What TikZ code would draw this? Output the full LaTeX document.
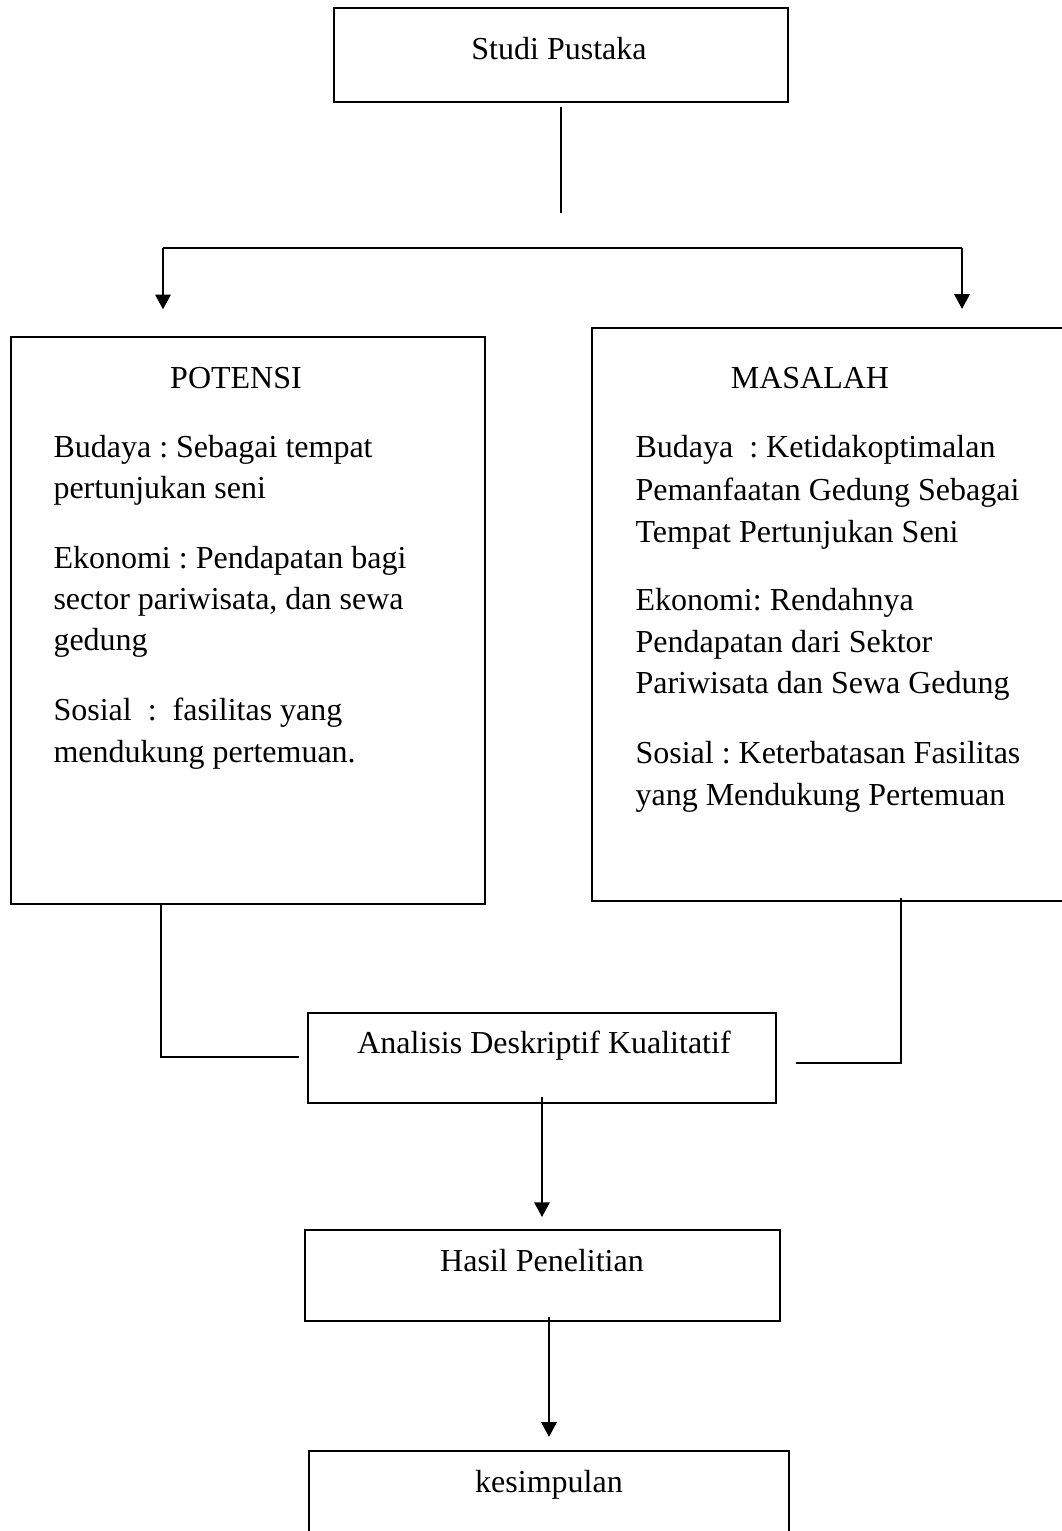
\documentclass[tikz,border=0pt]{standalone}
\usepackage{fontspec}
\setmainfont{Liberation Serif}
\frenchspacing
\usetikzlibrary{arrows.meta}

\tikzset{
  blok/.style={draw, line width=0.8pt, inner sep=0pt},
  txt/.style={inner sep=0pt, font=\fontsize{12}{15}\selectfont},
  link/.style={line width=0.6pt},
  flow/.style={link, -{Triangle[width=5.8pt,length=5.5pt]}}
}

\begin{document}
\begin{tikzpicture}[x=0.375pt,y=-0.375pt]
    \useasboundingbox (0,0) rectangle (1062,1531);

    % kotak-kotak
    \node[blok, minimum width=170.25pt, minimum height=35.25pt] (studi) at (561,55) {};
    \node[txt, anchor=base] (studitxt) at (559,59) {Studi Pustaka};

    \node[blok, minimum width=177.75pt, minimum height=212.6pt] (potensi) at (248,620.5) {};
    \node[txt, anchor=base] (potensitxt) at (236,388) {POTENSI};
    \foreach \y/\isi in {457/{Budaya : Sebagai tempat}, 498/{pertunjukan seni},
        568/{Ekonomi : Pendapatan bagi}, 609/{sector pariwisata, dan sewa}, 650/{gedung},
        720/{Sosial~ :~ fasilitas yang}, 762/{mendukung pertemuan.}}
        \node[txt, anchor=base west] (pot\y) at (53,\y) {\isi};

    \node[blok, minimum width=181.1pt, minimum height=214.9pt] (masalah) at (833.5,614.5) {};
    \node[txt, anchor=base] (masalahtxt) at (810,388) {MASALAH};
    \foreach \y/\isi in {457/{Budaya~ : Ketidakoptimalan}, 500/{Pemanfaatan Gedung Sebagai},
        542/{Tempat Pertunjukan Seni}, 610/{Ekonomi: Rendahnya}, 652/{Pendapatan dari Sektor},
        693/{Pariwisata dan Sewa Gedung}, 763/{Sosial : Keterbatasan Fasilitas},
        805/{yang Mendukung Pertemuan}}
        \node[txt, anchor=base west] (mas\y) at (635,\y) {\isi};

    \node[blok, minimum width=175.5pt, minimum height=33.75pt] (analisis) at (542,1058) {};
    \node[txt, anchor=base] (analisistxt) at (544,1053) {Analisis Deskriptif Kualitatif};

    \node[blok, minimum width=178.1pt, minimum height=34.1pt] (hasil) at (542.5,1275.5) {};
    \node[txt, anchor=base] (hasiltxt) at (542,1271) {Hasil Penelitian};

    \node[blok, minimum width=180pt, minimum height=40.9pt] (simpulan) at (549,1505.5) {};
    \node[txt, anchor=base] (simpulantxt) at (549,1492) {kesimpulan};

    % garis penghubung
    \coordinate (pecah) at (561,213);
    \draw[link, shorten <=1.5pt] (studi.south) -- (pecah);

    \coordinate (kiri) at (163,248);
    \coordinate (kanan) at (962,248);
    \draw[link] (kiri) -- (kanan);
    \draw[flow, shorten >=10pt] (kiri) -- (kiri |- potensi.north);
    \draw[flow, shorten >=6.75pt] (kanan) -- (kanan |- masalah.north);

    \coordinate (sikukiri) at (161,1057);
    \draw[link, shorten >=3pt] (potensi.south -| sikukiri) -- (sikukiri) -- (sikukiri -| analisis.west);
    \coordinate (sikukanan) at (901,1063);
    \draw[link, shorten <=-1.5pt, shorten >=7pt] (masalah.south -| sikukanan) -- (sikukanan) -- (sikukanan -| analisis.east);

    \draw[flow, shorten <=-2.6pt, shorten >=4.5pt] (analisis.south) -- (analisis.south |- hasil.north);
    \draw[flow, shorten <=-1.9pt, shorten >=4.9pt] (hasil.south -| simpulan.north) -- (simpulan.north);

\end{tikzpicture}
\end{document}
